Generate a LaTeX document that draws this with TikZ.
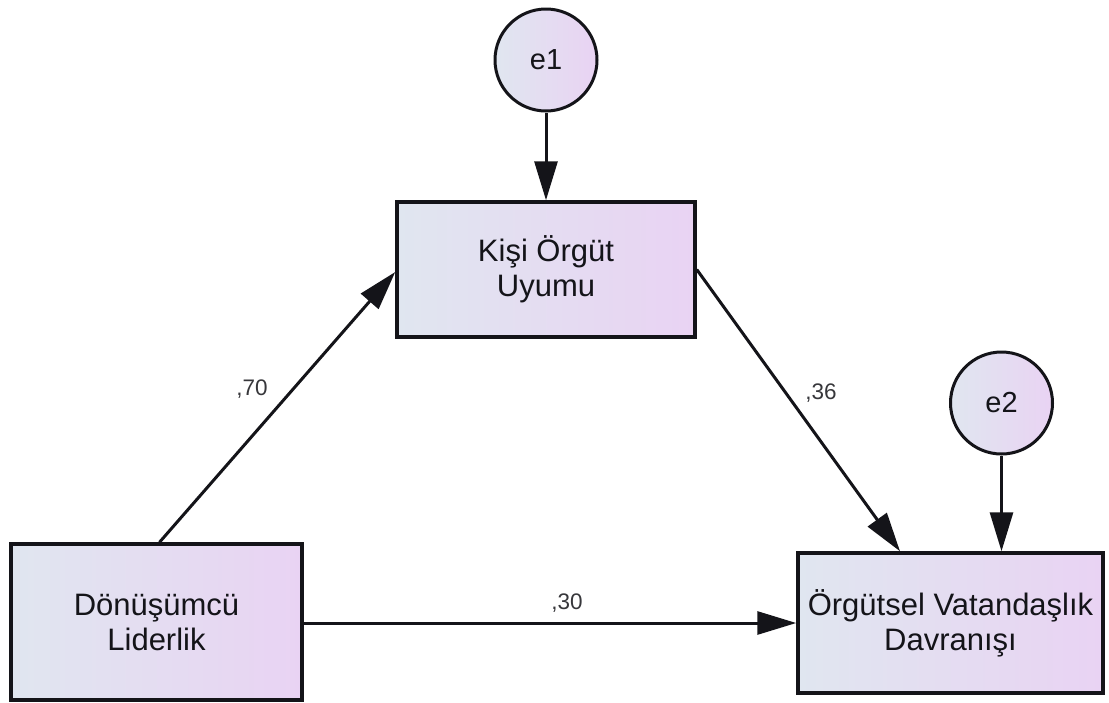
\documentclass[tikz,border=0pt]{standalone}
\usepackage{fontspec}
\setmainfont{Liberation Sans}
\usetikzlibrary{arrows.meta,calc}
\definecolor{boxleft}{RGB}{224,230,240}
\definecolor{boxright}{RGB}{233,211,243}
\definecolor{ink}{RGB}{20,20,25}
\tikzset{
  varbox/.style={draw=ink, line width=3.5pt, rectangle, left color=boxleft, right color=boxright,
    align=center, font=\fontsize{31}{35}\selectfont, text=ink, inner sep=0pt},
  errnode/.style={draw=ink, line width=3pt, circle, minimum size=102pt, inner sep=0pt,
    left color=boxleft, right color=boxright, font=\fontsize{29}{32}\selectfont, text=ink},
  path/.style={draw=ink, line width=3pt, -{Triangle[length=39pt,width=23pt]}},
  coef/.style={font=\fontsize{22.5}{24}\selectfont, text=ink!85, inner sep=0pt}
}
\begin{document}
\begin{tikzpicture}[x=1pt,y=-1pt]
  \useasboundingbox (0,0) rectangle (1109,702);
  % observed variables
  \node[varbox, minimum width=298pt, minimum height=135pt] (ko) at (546,269.5) {Kişi Örgüt\\Uyumu};
  \node[varbox, minimum width=291pt, minimum height=156pt] (dl) at (156.5,622) {Dönüşümcü\\Liderlik};
  \node[varbox, minimum width=305pt, minimum height=140pt] (og) at (950.5,623) {Örgütsel Vatandaşlık\\Davranışı};
  % error terms
  \node[errnode] (e1) at (546,60) {e1};
  \node[errnode] (e2) at (1001.5,403) {e2};
  % regression paths
  \draw[path] (e1.south) -- (ko.north);
  \draw[path] (e2.south) -- (og.north -| e2.south);
  \draw[path] ($(dl.north)+(3,0)$) -- ($(ko.west)+(0,2.5)$);
  \draw[path] (ko.east) -- ($(og.north)+(-50.5,0)$);
  \draw[path] (og.west -| dl.east) -- (og.west);
  % standardized coefficients
  \node[coef] (c70) at (252,389) {,70};
  \node[coef] (c36) at (821,393) {,36};
  \node[coef] (c30) at (567,603) {,30};
\end{tikzpicture}
\end{document}
